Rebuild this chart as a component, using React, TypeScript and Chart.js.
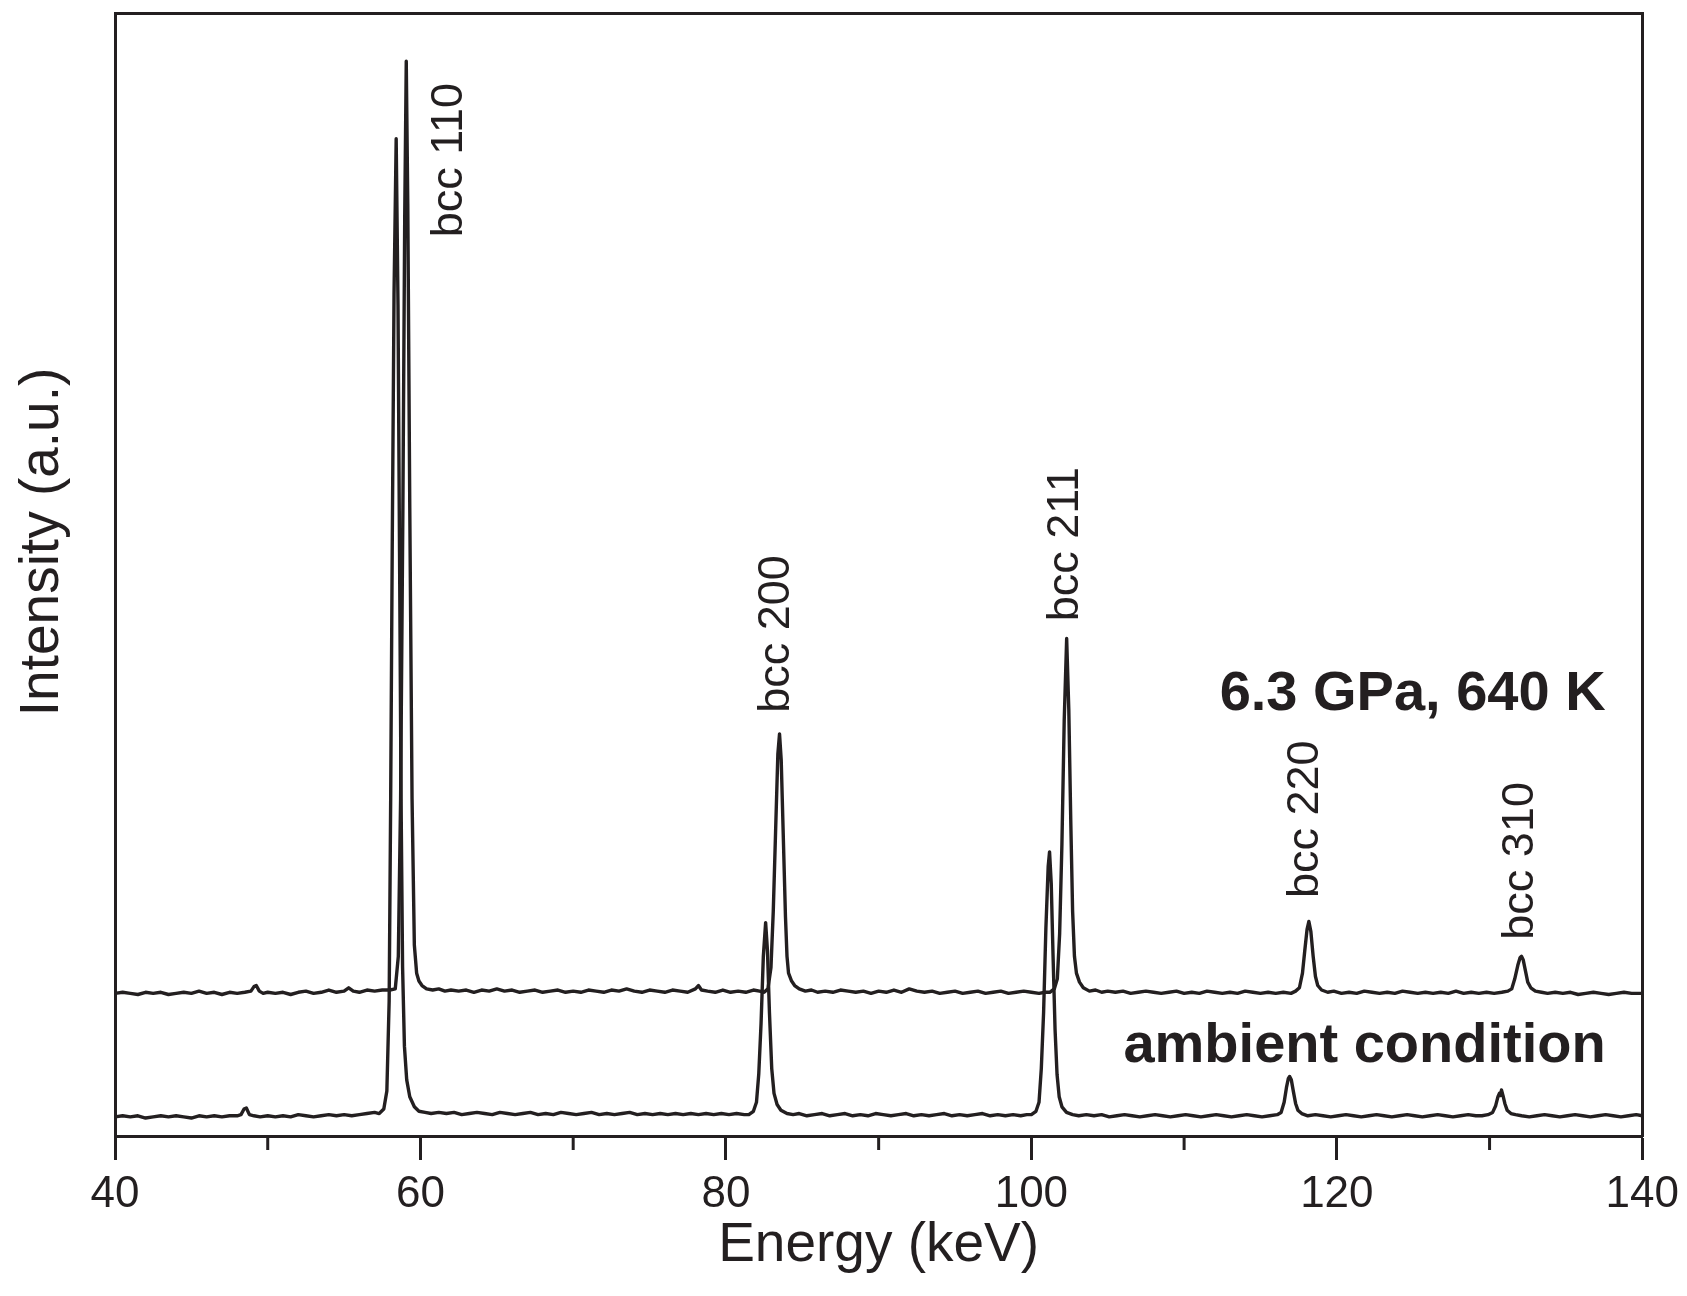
import React, { useEffect, useRef } from 'react';
import { Chart, registerables } from 'chart.js';

Chart.register(...registerables);

const INK = '#231f20';
const FONT = '"Liberation Sans", Arial, Helvetica, sans-serif';

// x-axis tick values (keV)
const majorTicks = [40, 60, 80, 100, 120, 140];
const minorTicks = [50, 70, 90, 110, 130];

const seriesNames = ['6.3 GPa, 640 K', 'ambient condition'];

// Spectrum at 6.3 GPa, 640 K (energy keV, intensity a.u. incl. vertical offset)
const highPressure: [number, number][] = [
  [40, 127], [40.5, 128], [41, 127], [41.5, 126], [42, 128], [42.5, 127], [43, 128], [43.5, 126], [44, 127], [44.5, 128],
  [45, 127], [45.5, 129], [46, 127], [46.5, 128], [47, 126], [47.5, 128], [48, 127], [48.5, 128], [48.9, 129], [49.1, 133],
  [49.25, 134], [49.45, 129], [49.7, 127], [50, 128], [50.5, 127], [51, 128], [51.5, 126], [52, 128], [52.5, 129], [53, 127],
  [53.5, 128], [54, 130], [54.5, 128], [55, 129], [55.3, 132], [55.6, 129], [56, 128], [56.5, 130], [57, 129], [57.5, 130],
  [58, 130], [58.35, 131], [58.55, 160], [58.7, 300], [58.85, 560], [58.97, 820], [59.07, 957], [59.17, 830], [59.3, 560],
  [59.45, 300], [59.6, 170], [59.75, 145], [59.9, 138], [60.1, 134], [60.4, 131], [60.8, 130], [61.2, 131], [61.6, 129],
  [62, 130], [62.5, 129], [63, 130], [63.5, 128], [64, 130], [64.5, 129], [65, 131], [65.5, 129], [66, 130], [66.5, 128],
  [67, 129], [67.5, 130], [68, 128], [68.5, 129], [69, 130], [69.5, 128], [70, 129], [70.5, 128], [71, 130], [71.5, 129],
  [72, 128], [72.5, 130], [73, 129], [73.5, 131], [74, 129], [74.5, 128], [75, 130], [75.5, 129], [76, 128], [76.5, 130],
  [77, 129], [77.5, 128], [78, 131], [78.2, 134], [78.4, 130], [78.8, 129], [79.3, 128], [79.8, 130], [80.3, 128], [80.8, 129],
  [81.3, 128], [81.8, 130], [82.2, 129], [82.5, 128], [82.75, 131], [82.95, 150], [83.1, 200], [83.25, 270], [83.4, 340],
  [83.51, 358], [83.62, 335], [83.75, 270], [83.9, 195], [84, 160], [84.1, 145], [84.3, 138], [84.5, 134], [84.8, 131],
  [85.2, 129], [85.6, 130], [86, 128], [86.5, 129], [87, 128], [87.5, 130], [88, 129], [88.5, 128], [89, 129], [89.5, 127],
  [90, 129], [90.5, 128], [91, 130], [91.5, 128], [92, 131], [92.5, 129], [93, 128], [93.5, 129], [94, 127], [94.5, 128],
  [95, 129], [95.5, 127], [96, 128], [96.5, 129], [97, 127], [97.5, 128], [98, 129], [98.5, 127], [99, 128], [99.5, 129],
  [100, 128], [100.5, 127], [100.9, 128], [101.2, 128], [101.5, 131], [101.7, 140], [101.85, 180], [102, 260], [102.15, 370],
  [102.31, 443], [102.45, 380], [102.58, 280], [102.7, 200], [102.82, 160], [102.95, 145], [103.15, 137], [103.4, 132],
  [103.8, 129], [104.2, 130], [104.6, 128], [105, 129], [105.5, 128], [106, 129], [106.5, 127], [107, 128], [107.5, 129],
  [108, 128], [108.5, 127], [109, 128], [109.5, 129], [110, 127], [110.5, 128], [111, 127], [111.5, 129], [112, 128],
  [112.5, 127], [113, 128], [113.5, 127], [114, 129], [114.5, 128], [115, 127], [115.5, 128], [116, 127], [116.5, 128],
  [117, 127], [117.3, 129], [117.55, 132], [117.75, 145], [117.9, 165], [118.05, 184], [118.17, 191], [118.3, 182],
  [118.45, 160], [118.6, 142], [118.75, 134], [119, 130], [119.4, 128], [119.8, 129], [120.3, 127], [120.8, 128], [121.3, 127],
  [121.8, 129], [122.3, 128], [122.8, 127], [123.3, 128], [123.8, 127], [124.3, 129], [124.8, 128], [125.3, 127], [125.8, 128],
  [126.3, 127], [126.8, 128], [127.3, 127], [127.8, 129], [128.3, 127], [128.8, 128], [129.3, 127], [129.8, 128], [130.3, 127],
  [130.8, 128], [131.2, 129], [131.45, 131], [131.65, 140], [131.85, 152], [132, 159], [132.09, 160], [132.2, 157],
  [132.35, 147], [132.5, 137], [132.7, 132], [133, 129], [133.4, 128], [133.8, 127], [134.3, 128], [134.8, 127], [135.3, 128],
  [135.8, 126], [136.3, 127], [136.8, 128], [137.3, 127], [137.8, 126], [138.3, 127], [138.8, 128], [139.3, 127], [140, 127],
];

// Spectrum at ambient condition
const ambient: [number, number][] = [
  [40, 17], [40.5, 18], [41, 17], [41.5, 18], [42, 16], [42.5, 17], [43, 18], [43.5, 17], [44, 18], [44.5, 17],
  [45, 16], [45.5, 18], [46, 17], [46.5, 18], [47, 17], [47.5, 18], [48, 18], [48.25, 19], [48.45, 24], [48.6, 25],
  [48.8, 19], [49.1, 18], [49.5, 17], [50, 18], [50.5, 17], [51, 18], [51.5, 17], [52, 19], [52.5, 18], [53, 17],
  [53.5, 18], [54, 19], [54.5, 18], [55, 19], [55.5, 18], [56, 19], [56.5, 20], [57, 21], [57.3, 20], [57.6, 24],
  [57.8, 40], [57.95, 120], [58.05, 300], [58.15, 520], [58.27, 750], [58.41, 888], [58.53, 740], [58.63, 520], [58.73, 300],
  [58.83, 150], [58.95, 80], [59.1, 50], [59.3, 35], [59.6, 26], [59.9, 22], [60.3, 21], [60.7, 20], [61.2, 21], [61.7, 20],
  [62.2, 21], [62.7, 19], [63.2, 20], [63.7, 21], [64.2, 20], [64.7, 19], [65.2, 21], [65.7, 20], [66.2, 19], [66.7, 20],
  [67.2, 21], [67.7, 19], [68.2, 20], [68.7, 19], [69.2, 21], [69.7, 20], [70.2, 19], [70.7, 20], [71.2, 21], [71.7, 19],
  [72.2, 20], [72.7, 19], [73.2, 20], [73.7, 21], [74.2, 19], [74.7, 20], [75.2, 19], [75.7, 20], [76.2, 19], [76.7, 20],
  [77.2, 19], [77.7, 20], [78.2, 19], [78.7, 20], [79.2, 19], [79.7, 20], [80.2, 19], [80.7, 20], [81.2, 19], [81.5, 19],
  [81.8, 22], [82, 30], [82.15, 55], [82.3, 100], [82.45, 160], [82.6, 190], [82.72, 165], [82.85, 110], [83, 60],
  [83.15, 38], [83.35, 28], [83.6, 23], [84, 20], [84.4, 19], [84.8, 20], [85.3, 18], [85.8, 19], [86.3, 20], [86.8, 18],
  [87.3, 19], [87.8, 20], [88.3, 18], [88.8, 19], [89.3, 18], [89.8, 20], [90.3, 19], [90.8, 18], [91.3, 19], [91.8, 20],
  [92.3, 18], [92.8, 19], [93.3, 18], [93.8, 19], [94.3, 20], [94.8, 18], [95.3, 19], [95.8, 18], [96.3, 19], [96.8, 20],
  [97.3, 18], [97.8, 19], [98.3, 18], [98.8, 19], [99.3, 18], [99.7, 19], [100, 19], [100.3, 22], [100.5, 30], [100.65, 60],
  [100.8, 110], [100.95, 185], [101.1, 240], [101.19, 253], [101.3, 225], [101.42, 160], [101.55, 95], [101.68, 55],
  [101.82, 35], [102, 26], [102.3, 21], [102.7, 19], [103.1, 18], [103.6, 19], [104.1, 18], [104.6, 19], [105.1, 17],
  [105.6, 18], [106.1, 19], [106.6, 18], [107.1, 17], [107.6, 18], [108.1, 19], [108.6, 18], [109.1, 17], [109.6, 18],
  [110.1, 19], [110.6, 18], [111.1, 17], [111.6, 18], [112.1, 19], [112.6, 18], [113.1, 17], [113.6, 18], [114.1, 19],
  [114.6, 18], [115.1, 17], [115.6, 18], [116.1, 19], [116.35, 21], [116.55, 30], [116.7, 43], [116.82, 51], [116.91, 53],
  [117.02, 50], [117.15, 40], [117.3, 29], [117.45, 23], [117.7, 20], [118.1, 18], [118.6, 19], [119.1, 18], [119.6, 17],
  [120.1, 18], [120.6, 19], [121.1, 18], [121.6, 17], [122.1, 18], [122.6, 19], [123.1, 18], [123.6, 17], [124.1, 18],
  [124.6, 19], [125.1, 18], [125.6, 17], [126.1, 18], [126.6, 19], [127.1, 18], [127.6, 17], [128.1, 18], [128.6, 19],
  [129.1, 18], [129.5, 18], [129.9, 19], [130.2, 21], [130.4, 27], [130.55, 35], [130.65, 38], [130.72, 36], [130.78, 41],
  [130.88, 36], [131, 29], [131.15, 23], [131.4, 20], [131.7, 19], [132.1, 18], [132.6, 17], [133.1, 18], [133.6, 19],
  [134.1, 18], [134.6, 17], [135.1, 18], [135.6, 19], [136.1, 18], [136.6, 17], [137.1, 18], [137.6, 19], [138.1, 18],
  [138.6, 17], [139.1, 18], [139.6, 19], [140, 18],
];

// Peak annotations (text) and their anchors in data coordinates
const peakLabels = ['bcc 110', 'bcc 200', 'bcc 211', 'bcc 220', 'bcc 310'];
const peakLabelEnergy = [61.9, 83.3, 102.25, 117.95, 132.05];
const peakLabelIntensity = [869, 447, 527, 282, 245];
const conditionLabelEnergy = 137.6;
const conditionLabelIntensity = [379, 66];
const yTitleIntensity = 529;

const decor = {
  id: 'decor',
  afterDraw(chart: any) {
    const { ctx, chartArea, scales } = chart;
    const x = scales.x;
    const y = scales.y;
    ctx.save();
    // minor ticks on the energy axis
    ctx.strokeStyle = INK;
    ctx.lineWidth = 3;
    minorTicks.forEach((v) => {
      const px = x.getPixelForValue(v);
      ctx.beginPath();
      ctx.moveTo(px, chartArea.bottom);
      ctx.lineTo(px, chartArea.bottom + 14);
      ctx.stroke();
    });
    ctx.fillStyle = INK;
    // rotated peak labels
    ctx.font = `45px ${FONT}`;
    ctx.textAlign = 'center';
    ctx.textBaseline = 'middle';
    peakLabels.forEach((t, i) => {
      ctx.save();
      ctx.translate(x.getPixelForValue(peakLabelEnergy[i]), y.getPixelForValue(peakLabelIntensity[i]));
      ctx.rotate(-Math.PI / 2);
      ctx.fillText(t, 0, 0);
      ctx.restore();
    });
    // condition labels
    ctx.font = `bold 56px ${FONT}`;
    ctx.textAlign = 'right';
    ctx.textBaseline = 'alphabetic';
    seriesNames.forEach((t, i) => {
      ctx.fillText(t, x.getPixelForValue(conditionLabelEnergy), y.getPixelForValue(conditionLabelIntensity[i]));
    });
    // y axis title
    ctx.font = `55px ${FONT}`;
    ctx.textAlign = 'center';
    ctx.textBaseline = 'middle';
    ctx.translate(43, y.getPixelForValue(yTitleIntensity));
    ctx.rotate(-Math.PI / 2);
    ctx.fillText('Intensity (a.u.)', 0, 0);
    ctx.restore();
  },
};

export default function App() {
  const ref = useRef<HTMLCanvasElement>(null);
  useEffect(() => {
    const lineStyle = {
      borderColor: INK,
      borderWidth: 3.4,
      pointRadius: 0,
      tension: 0,
      fill: false,
      borderJoinStyle: 'round' as const,
      borderCapStyle: 'round' as const,
    };
    const chart = new Chart(ref.current as HTMLCanvasElement, {
      type: 'line',
      data: {
        datasets: [
          { label: seriesNames[0], data: highPressure as any, ...lineStyle },
          { label: seriesNames[1], data: ambient as any, ...lineStyle },
        ],
      },
      options: {
        responsive: false,
        animation: false,
        devicePixelRatio: 1,
        layout: { padding: { top: 13, right: 42, left: 0, bottom: 0 } },
        plugins: { legend: { display: false }, tooltip: { enabled: false } },
        scales: {
          x: {
            type: 'linear',
            position: 'bottom',
            min: majorTicks[0],
            max: majorTicks[majorTicks.length - 1],
            ticks: {
              stepSize: 20,
              color: INK,
              font: { family: FONT, size: 44 },
              padding: 8,
              maxRotation: 0,
              autoSkip: false,
              callback: (v: any) => String(v),
            },
            grid: { display: true, drawOnChartArea: false, drawTicks: true, tickLength: 24, tickWidth: 3, tickColor: INK },
            border: { display: true, color: INK, width: 3 },
            title: { display: true, text: 'Energy (keV)', color: INK, font: { family: FONT, size: 55 }, padding: { top: 0, bottom: 17 } },
            afterFit: (s: any) => { s.height = 160; },
          },
          x2: {
            type: 'linear',
            position: 'top',
            min: 40,
            max: 140,
            ticks: { display: false },
            grid: { display: false },
            border: { display: true, color: INK, width: 3 },
            afterFit: (s: any) => { s.height = 0; },
          },
          y: {
            type: 'linear',
            position: 'left',
            min: 0,
            max: 1000,
            ticks: { display: false },
            grid: { display: false },
            border: { display: true, color: INK, width: 3 },
            afterFit: (s: any) => { s.width = 115; },
          },
          y2: {
            type: 'linear',
            position: 'right',
            min: 0,
            max: 1000,
            ticks: { display: false },
            grid: { display: false },
            border: { display: true, color: INK, width: 3 },
            afterFit: (s: any) => { s.width = 0; },
          },
        },
      } as any,
      plugins: [decor],
    });
    return () => chart.destroy();
  }, []);
  return (
    <div style={{ position: 'absolute', left: 0, top: 0, width: 1687, height: 1296, background: '#fff' }}>
      <canvas ref={ref} width={1687} height={1296} style={{ display: 'block' }} />
    </div>
  );
}
